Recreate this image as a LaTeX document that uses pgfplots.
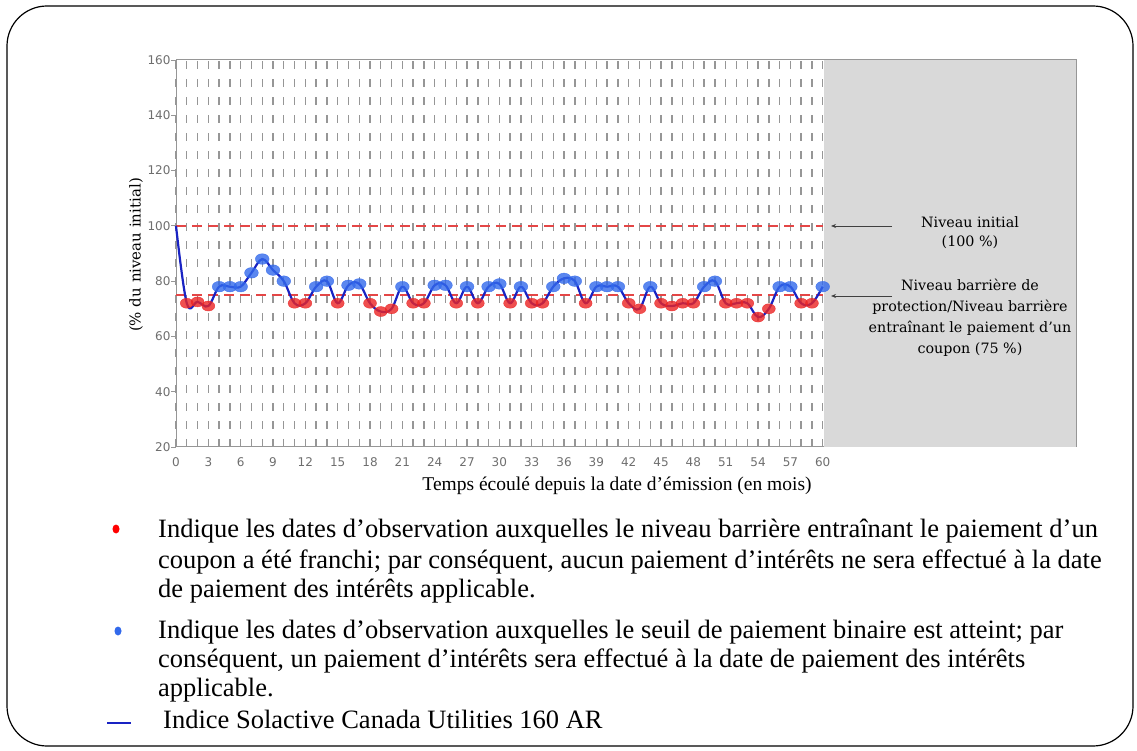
\documentclass[border=0pt]{standalone}
\usepackage{pgfplots}
\pgfplotsset{compat=1.18}
\usepackage{pgfplotstable}
\usepackage{fontspec}
\usetikzlibrary{arrows.meta}
\setmainfont{Liberation Serif}
\newfontfamily\tickfont{DejaVu Sans}
\newfontfamily\annfont{DejaVu Serif}
\definecolor{lineblue}{RGB}{25,35,195}
\definecolor{markblue}{RGB}{50,105,235}
\definecolor{markred}{RGB}{235,35,35}
\definecolor{dashred}{RGB}{228,70,70}
\definecolor{gridgray}{RGB}{150,150,150}
\definecolor{shade}{RGB}{217,217,217}
\definecolor{ticktext}{RGB}{110,110,110}

\pgfplotstableread{
m v
0 100
1 72
2 72.5
3 71
4 78
5 78
6 78
7 83
8 88
9 84
10 80
11 72
12 72
13 78
14 80
15 72
16 78.5
17 79
18 72
19 69
20 70
21 78
22 72
23 72
24 78.5
25 78.5
26 72
27 78
28 72
29 78
30 79
31 72
32 78
33 72
34 72
35 78
36 81
37 80
38 72
39 78
40 78
41 78
42 72
43 70
44 78
45 72
46 71
47 72
48 72
49 78
50 80
51 72
52 72
53 72
54 67
55 70
56 78
57 78
58 72
59 72
60 78
}\datatable

\begin{document}
\begin{tikzpicture}[x=1pt,y=1pt]
\path (0,0) rectangle (1137,750);
\draw[line width=1.2pt, rounded corners=40pt] (7,4) rectangle (1133,744);
\begin{axis}[
  at={(176pt,303pt)}, anchor=south west,
  scale only axis, width=900pt, height=387pt,
  xmin=0, xmax=83.5, ymin=20, ymax=160,
  xtick={0,3,...,60}, ytick={20,40,...,160},
  minor xtick={1,...,60},
  xmajorgrids, xminorgrids,
  major grid style={gridgray, line width=1.4pt, dash pattern=on 8pt off 10pt},
  minor grid style={gridgray, line width=1.4pt, dash pattern=on 8pt off 10pt},
  axis line style={gridgray, line width=1pt},
  xtick style={draw=none},
  ytick pos=left,
  ytick style={gridgray, line width=0.8pt},
  tick align=outside,
  major tick length=5pt,
  /pgf/number format/assume math mode=true,
  ticklabel style={font=\tickfont\fontsize{12}{12}\selectfont, text=ticktext},
  yticklabel style={xshift=3pt},
  xticklabel style={yshift=-2pt, text height=9pt, text depth=0pt},
  clip=false,
]
\addplot[fill=shade, draw=none] coordinates {(60.15,20) (83.5,20) (83.5,160) (60.15,160)} -- cycle;
\addplot[dashred, line width=1.8pt, dash pattern=on 10pt off 6pt] coordinates {(0,100) (60,100)};
\addplot[dashred, line width=1.8pt, dash pattern=on 10pt off 6pt] coordinates {(0,75) (60,75)};
\addplot[only marks, mark=*, mark size=5pt, color=markred, opacity=0.8,
  mark options={draw=none, xscale=1.3}, restrict y to domain=0:74.9] table[x=m,y=v]{\datatable};
\addplot[only marks, mark=*, mark size=5.3pt, color=markblue, opacity=0.8,
  mark options={draw=none, xscale=1.3}, restrict y to domain=75:99] table[x=m,y=v]{\datatable};
\addplot[lineblue, line width=2.2pt, smooth, tension=0.6] table[x=m,y=v]{\datatable};
\end{axis}

% axis titles
\node[font=\fontsize{19.5}{22}\selectfont] at (617,264) {Temps écoulé depuis la date d’émission (en mois)};
\node[rotate=90, font=\annfont\fontsize{15}{17}\selectfont] at (136,495) {(\% du niveau initial)};

% annotations
\node[align=center, font=\annfont\fontsize{14.3}{19}\selectfont] at (970,517) {Niveau initial\\(100 \%)};
\node[align=center, font=\annfont\fontsize{14.3}{21}\selectfont] at (970,432) {Niveau barrière de\\protection/Niveau barrière\\entraînant le paiement d’un\\coupon (75 \%)};
\draw[black!75, line width=0.8pt, -{Stealth[length=5pt,width=4pt]}] (892,524) -- (831,524);
\draw[black!75, line width=0.8pt, -{Stealth[length=5pt,width=4pt]}] (892,454) -- (831,454);

% legend / notes
\fill[red] (116,221) ellipse (3.5 and 4.5);
\fill[markblue] (118,119) ellipse (3.5 and 4.5);
\draw[lineblue, line width=1.5pt] (107,27) -- (131,27);
\begin{scope}[every node/.style={anchor=base west, inner sep=0pt, font=\fontsize{26.5}{30}\selectfont}]
\node at (158,212) {Indique les dates d’observation auxquelles le niveau barrière entraînant le paiement d’un};
\node at (158,182) {coupon a été franchi; par conséquent, aucun paiement d’intérêts ne sera effectué à la date};
\node at (158,153) {de paiement des intérêts applicable.};
\node at (158,112) {Indique les dates d’observation auxquelles le seuil de paiement binaire est atteint; par};
\node at (158,83) {conséquent, un paiement d’intérêts sera effectué à la date de paiement des intérêts};
\node at (158,54) {applicable.};
\node at (163,22) {Indice Solactive Canada Utilities 160 AR};
\end{scope}
\end{tikzpicture}
\end{document}
